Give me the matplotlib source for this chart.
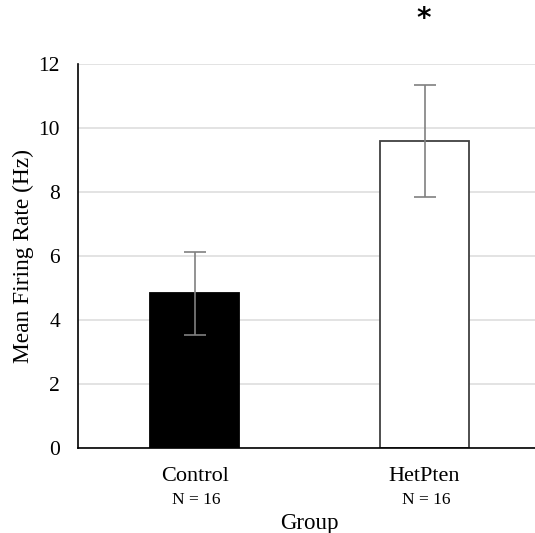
import matplotlib
matplotlib.use("Agg")
import matplotlib.pyplot as plt

groups = ["Control", "HetPten"]
n_labels = ["N = 16", "N = 16"]
means = [4.83, 9.59]
errors = [1.31, 1.74]
colors = ["#000000", "#ffffff"]
yticks = [0, 2, 4, 6, 8, 10, 12]

plt.rcParams['font.family'] = ['Liberation Serif', 'DejaVu Serif']

fig = plt.figure(figsize=(5.35, 5.33), dpi=100)
W, H = 535, 533
ax = fig.add_axes([78 / W, 1 - 448 / H, (535 - 78) / W, (448 - 64) / H])

x = list(range(len(groups)))
ax.bar(x, means, width=0.39, color=colors, edgecolor=["#000000", "#404040"],
       linewidth=1.3, zorder=3)
ax.errorbar(x, means, yerr=errors, fmt='none', ecolor='#808080', elinewidth=1.2,
            capsize=7.7, capthick=1.2, zorder=4)

ax.set_xlim(-0.507, 1.48)
ax.set_ylim(0, 12)
ax.set_yticks(yticks)
ax.set_yticklabels([str(v) for v in yticks], fontsize=15.5)
ax.yaxis.grid(True, color='#e3e3e3', linewidth=1.4, zorder=0)
ax.set_axisbelow(True)
for s in ['top', 'right']:
    ax.spines[s].set_visible(False)
for s in ['left', 'bottom']:
    ax.spines[s].set_color('#000000')
    ax.spines[s].set_linewidth(1.2)
    ax.spines[s].set_zorder(5)
ax.tick_params(axis='both', length=0)
ax.tick_params(axis='y', pad=13)
ax.set_xticks(x)
ax.set_xticklabels(groups, fontsize=16)
ax.tick_params(axis='x', pad=13.5)

for xi, nl in zip(x, n_labels):
    ax.annotate(nl, xy=(xi, 0), xycoords=('data', 'axes fraction'),
                xytext=(2, -52), textcoords='offset pixels',
                ha='center', va='center', fontsize=12.5)

fig.text(309 / W, 1 - 529 / H, "Group", ha='center', va='baseline', fontsize=16.5)
fig.text(23 / W, 1 - 256 / H, "Mean Firing Rate (Hz)", ha='center', va='center',
         rotation=90, fontsize=16.8)

ax.annotate("*", xy=(1, 0), xycoords=('data', 'axes fraction'),
            xytext=(424, H - 19), textcoords='figure pixels',
            ha='center', va='center', fontsize=20, fontweight='bold',
            family=['DejaVu Sans'])

fig.savefig("out.png", dpi=100)
